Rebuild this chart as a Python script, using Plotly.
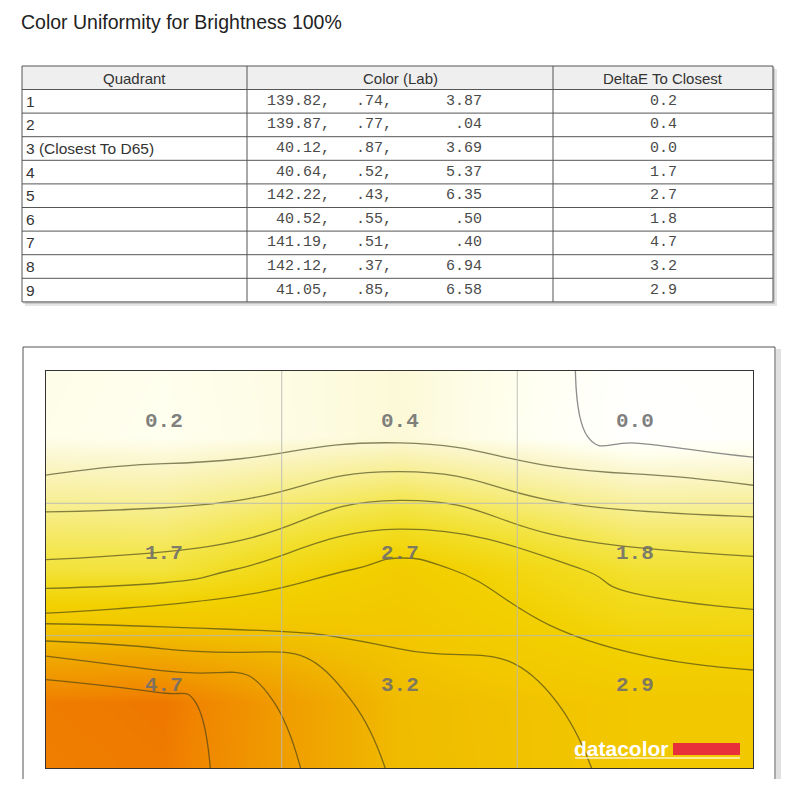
import plotly.graph_objects as go

# reference page pixel coordinates are converted to figure coordinates
# (the page body has an 8px margin)
OFF = 8
W, H = 782, 771

# ---------------- data ----------------
title = "Color Uniformity for Brightness 100%"
headers = ["Quadrant", "Color (Lab)", "DeltaE To Closest"]
quadrants = ["1", "2", "3 (Closest To D65)", "4", "5", "6", "7", "8", "9"]
lab_L = ["139.82,", "139.87,", "40.12,", "40.64,", "142.22,", "40.52,", "141.19,", "142.12,", "41.05,"]
lab_a = [".74,", ".77,", ".87,", ".52,", ".43,", ".55,", ".51,", ".37,", ".85,"]
lab_b = ["3.87", ".04", "3.69", "5.37", "6.35", ".50", ".40", "6.94", "6.58"]
delta_e = [0.2, 0.4, 0.0, 1.7, 2.7, 1.8, 4.7, 3.2, 2.9]
contour_levels = (0.5, 4.5, 0.5)
inner_level = 0.08

# ---------------- helpers ----------------
def px(x):
    return (x - OFF) / W

def py(y):
    return 1 - (y - OFF) / H

shapes = []
annotations = []

def rect(x0, y0, x1, y1, fill=None, line=None, lw=1, layer="above"):
    d = dict(type="rect", xref="paper", yref="paper",
             x0=px(x0), x1=px(x1), y0=py(y1), y1=py(y0), layer=layer,
             line=dict(width=lw if line else 0, color=line or "rgba(0,0,0,0)"))
    if fill:
        d["fillcolor"] = fill
    shapes.append(d)

def hline(x0, x1, y, color="#555", lw=1):
    shapes.append(dict(type="line", xref="paper", yref="paper", x0=px(x0), x1=px(x1),
                       y0=py(y), y1=py(y), line=dict(color=color, width=lw)))

def vline(x, y0, y1, color="#555", lw=1):
    shapes.append(dict(type="line", xref="paper", yref="paper", x0=px(x), x1=px(x),
                       y0=py(y0), y1=py(y1), line=dict(color=color, width=lw)))

def text(x, y, s, size, color="#222", family="Liberation Sans, Arial", xanchor="left"):
    shift = {"left": -3, "right": 3, "center": 0}[xanchor]
    annotations.append(dict(xref="paper", yref="paper", x=px(x), y=py(y), text=s, xshift=shift,
                            showarrow=False, xanchor=xanchor, yanchor="middle",
                            font=dict(size=size, color=color, family=family)))

# ---------------- title ----------------
text(22, 22, title, 19.5, color="#222")

# ---------------- table ----------------
tx0, tx1 = 22, 773
col_x = [22, 247, 553, 773]
ty0, head_h, row_h = 66, 23.5, 23.6
n = len(quadrants)
ty1 = ty0 + head_h + n * row_h
rect(tx0 + 3, ty0 + 3, tx1 + 4, ty1 + 4, fill="rgba(0,0,0,0.10)", layer="below")
rect(tx0 + 1, ty0 + 1, tx1 + 2, ty1 + 2, fill="rgba(0,0,0,0.12)", layer="below")
rect(tx0, ty0, tx1, ty1, fill="#ffffff", layer="below")
rect(tx0, ty0, tx1, ty0 + head_h, fill="#efefef", layer="below")
hline(tx0, tx1, ty0)
hline(tx0, tx1, ty0 + head_h)
for i in range(n):
    hline(tx0, tx1, ty0 + head_h + (i + 1) * row_h)
for cx in col_x:
    vline(cx, ty0, ty1)
for j, h in enumerate(headers):
    text((col_x[j] + col_x[j + 1]) / 2, ty0 + head_h / 2 + 1, h, 15, color="#333", xanchor="center")
mono = "Liberation Mono, Courier New, monospace"
for i in range(n):
    yc = ty0 + head_h + (i + 0.5) * row_h
    text(col_x[0] + 5, yc, quadrants[i], 15.5, color="#333")
    text(329, yc, lab_L[i], 15, color="#4a4a4a", family=mono, xanchor="right")
    text(391, yc, lab_a[i], 15, color="#4a4a4a", family=mono, xanchor="right")
    text(481, yc, lab_b[i], 15, color="#4a4a4a", family=mono, xanchor="right")
    text((col_x[2] + col_x[3]) / 2, yc, "%.1f" % delta_e[i], 15, color="#4a4a4a", family=mono, xanchor="center")

# ---------------- chart frame ----------------
rect(776, 349, 781, 800, fill="rgba(0,0,0,0.12)", layer="below")
rect(23, 347, 775, 800, fill="#ffffff", line="#555", lw=1, layer="below")

# ---------------- contour ----------------
# measured values sit at the cell centres; an outer ring placed far outside
# the visible range is left empty (None) so that plotly's own gap filling
# (connectgaps) carries the surface out to the plot edges
centres = [0.5, 1.5, 2.5]
pos = [-7.5] + centres + [10.5]
grid = [[None] * 5]
for r in range(3):
    grid.append([None] + delta_e[r * 3:(r + 1) * 3] + [None])
grid.append([None] * 5)

cscale = [[0.00, "#ffffff"], [0.04, "#fffff0"], [0.10, "#fbf6cc"], [0.20, "#f7ee90"],
          [0.30, "#f4e650"], [0.36, "#f2e032"], [0.40, "#f2dc20"], [0.50, "#f2d000"],
          [0.58, "#f2c800"], [0.64, "#f0bc00"], [0.70, "#f0ae00"], [0.80, "#f09a00"],
          [0.90, "#f08400"], [0.94, "#ef7800"], [1.00, "#ee7000"]]

fig = go.Figure()
fig.add_trace(go.Contour(
    x=pos, y=pos, z=grid, zmin=0, zmax=5, colorscale=cscale, showscale=False, connectgaps=True,
    contours=dict(start=contour_levels[0], end=contour_levels[1], size=contour_levels[2], coloring="heatmap"),
    line=dict(color="rgba(60,60,25,0.62)", width=1.3, smoothing=1.3),
    hoverinfo="skip"))
fig.add_trace(go.Contour(
    x=pos, y=pos, z=grid, showscale=False, connectgaps=True,
    contours=dict(start=inner_level, end=inner_level, size=1, coloring="none"),
    line=dict(color="rgba(120,120,120,0.85)", width=1.3, smoothing=1.3),
    hoverinfo="skip"))

# cell borders
for k in (1, 2):
    shapes.append(dict(type="line", xref="x", yref="y", x0=k, x1=k, y0=0, y1=3, layer="above",
                       line=dict(color="rgba(185,185,180,0.75)", width=1.2)))
    shapes.append(dict(type="line", xref="x", yref="y", x0=0, x1=3, y0=k, y1=k, layer="above",
                       line=dict(color="rgba(185,185,180,0.75)", width=1.2)))

# cell values
for i, v in enumerate(delta_e):
    r, c = divmod(i, 3)
    annotations.append(dict(xref="x", yref="y", x=centres[c], y=centres[r] - 0.12, text="<b>%.1f</b>" % v,
                            showarrow=False, xanchor="center", yanchor="middle",
                            font=dict(size=21, color="rgba(110,110,110,0.9)", family=mono)))

# datacolor logo
annotations.append(dict(xref="paper", yref="paper", x=px(575), y=py(748), xshift=-3, text="<b>datacolor</b>",
                        showarrow=False, xanchor="left", yanchor="middle",
                        font=dict(size=21, color="#ffffff", family="Liberation Sans, Arial")))
rect(673, 743, 740, 755, fill="#e8303a")
hline(575, 740, 758, color="rgba(255,250,220,0.9)", lw=1.5)

fig.update_layout(
    width=W, height=H, margin=dict(l=0, r=0, t=0, b=0),
    paper_bgcolor="#ffffff", plot_bgcolor="#ffffff",
    xaxis=dict(domain=[px(46), px(753)], range=[0, 3], showgrid=False, zeroline=False,
               showticklabels=False, ticks="", showline=True, mirror=True, linecolor="#333", linewidth=1),
    yaxis=dict(domain=[py(768), py(371)], range=[3, 0], showgrid=False, zeroline=False,
               showticklabels=False, ticks="", showline=True, mirror=True, linecolor="#333", linewidth=1),
    shapes=shapes, annotations=annotations, showlegend=False,
)
fig.write_html("out.html")
